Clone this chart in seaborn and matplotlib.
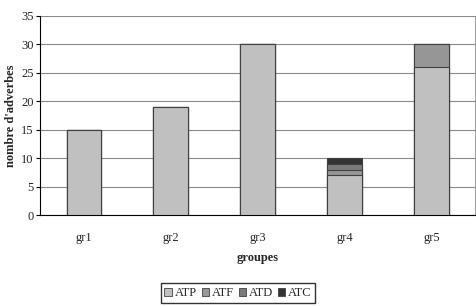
import numpy as np
import pandas as pd
import seaborn as sns
import matplotlib.pyplot as plt
from matplotlib.patches import Patch

groupes = ['gr1', 'gr2', 'gr3', 'gr4', 'gr5']
series = ['ATP', 'ATF', 'ATD', 'ATC']
atp = [15, 19, 30, 7, 26]
atf = [0, 0, 0, 1, 4]
atd = [0, 0, 0, 1, 0]
atc = [0, 0, 0, 1, 0]
colors = ['#c0c0c0', '#969696', '#7a7a7a', '#333333']

sns.set_style('white')
plt.rcParams['font.family'] = ['Liberation Serif', 'DejaVu Serif']

df = pd.DataFrame({'groupe': groupes, 'ATP': atp, 'ATF': atf, 'ATD': atd, 'ATC': atc})
cum = df[series].cumsum(axis=1)

fig, ax = plt.subplots(figsize=(4.76, 3.06), dpi=100)
fig.subplots_adjust(left=0.085, right=0.998, top=0.948, bottom=0.297)

# stacked: draw the tallest cumulative first, then the lower ones over it
for i in range(len(series) - 1, -1, -1):
    d = pd.DataFrame({'groupe': groupes, 'v': cum[series[i]]})
    sns.barplot(data=d, x='groupe', y='v', color=colors[i], saturation=1,
                width=0.4, edgecolor='#404040', linewidth=0.8, ax=ax, zorder=3)

ax.set_ylim(0, 35)
ax.set_yticks(range(0, 36, 5))
ax.set_xlim(-0.5, 4.5)
ax.yaxis.grid(True, color='#8a8a8a', linewidth=0.8, zorder=0)
ax.set_axisbelow(True)
ax.spines['top'].set_visible(False)
ax.spines['right'].set_color('#a0a0a0')
ax.spines['left'].set_color('black')
ax.spines['bottom'].set_color('black')
ax.spines['left'].set_linewidth(0.8)
ax.spines['bottom'].set_linewidth(0.8)

ax.set_xticks([0, 1, 2, 3, 4])
ax.set_xticklabels(groupes)
ax.set_xticks([-0.5, 0.5, 1.5, 2.5, 3.5], minor=True)
ax.tick_params(axis='x', which='major', length=0, pad=12, labelsize=9)
ax.tick_params(axis='x', which='minor', length=3, direction='out', color='black')
ax.tick_params(axis='y', length=3, direction='out', labelsize=9, pad=2, left=True, color='black')

ax.set_xlabel('groupes', fontsize=9, fontweight='bold', labelpad=6)
ax.set_ylabel("nombre d'adverbes", fontsize=9, fontweight='bold', labelpad=3)

handles = [Patch(facecolor=c, edgecolor='#404040', linewidth=0.6) for c in colors]
fig.legend(handles, series, loc='lower center', bbox_to_anchor=(0.5, -0.01), ncol=4,
           fontsize=9, frameon=True, fancybox=False, edgecolor='black',
           handlelength=0.6, handleheight=0.6, handletextpad=0.2, columnspacing=0.4,
           borderpad=0.3)

fig.savefig('out.png', dpi=100)
